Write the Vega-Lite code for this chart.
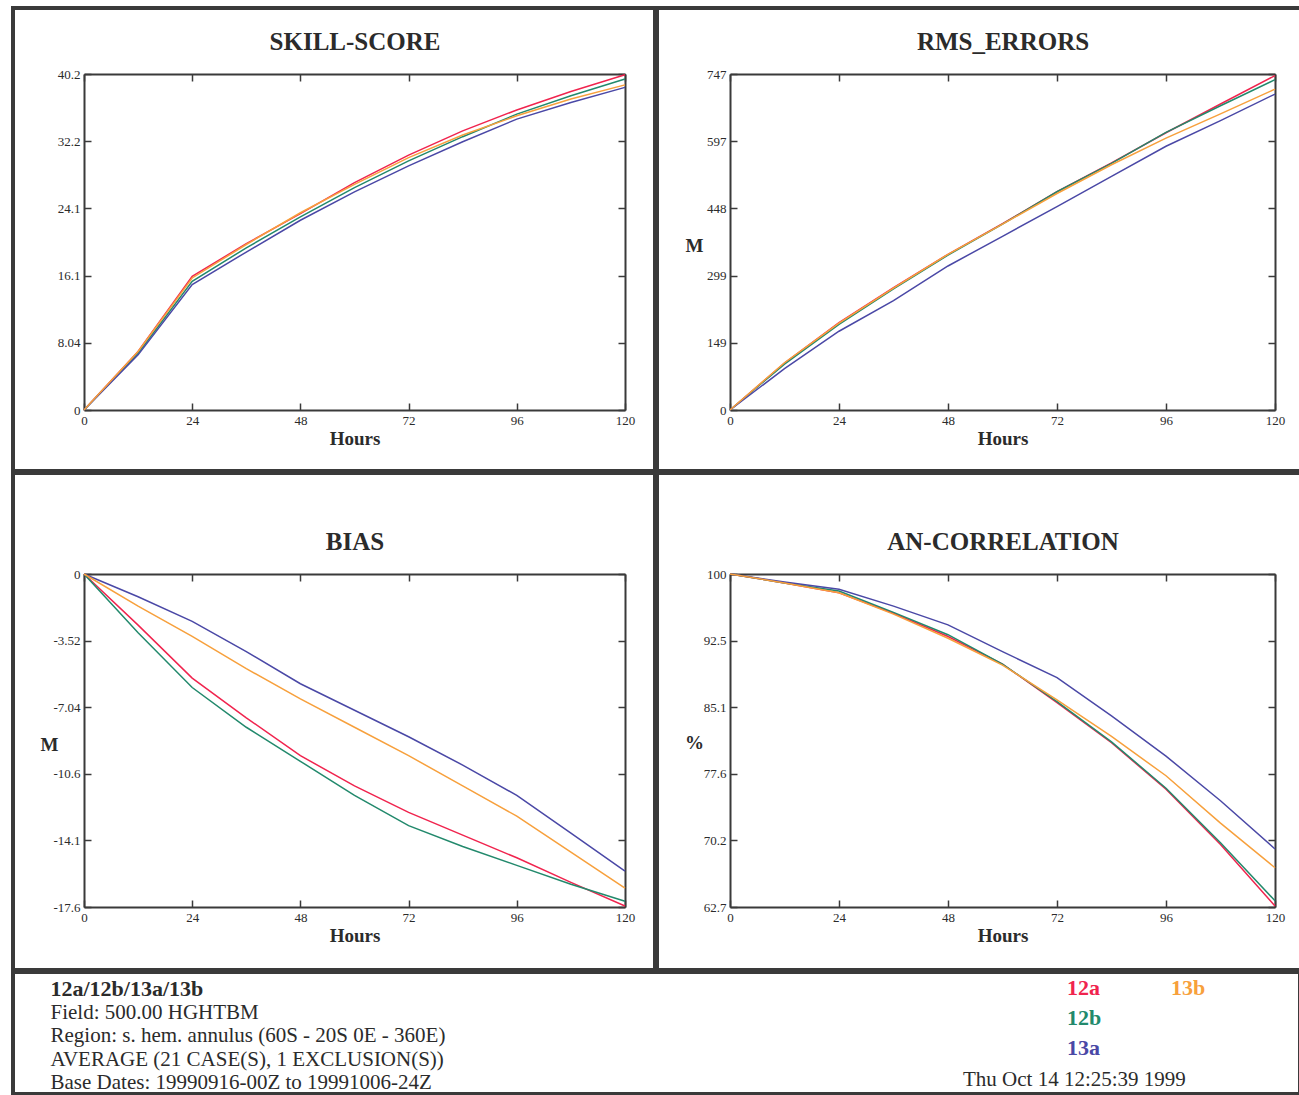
{
  "$schema": "https://vega.github.io/schema/vega-lite/v6.json",
  "background": "white",
  "padding": {"left": 8, "top": 6, "right": 0, "bottom": 0},
  "datasets": {
    "rows": [
      {"metric":"skill","series":"12a","hour":0,"value":0},{"metric":"skill","series":"12a","hour":12,"value":7.0},{"metric":"skill","series":"12a","hour":24,"value":16.0},{"metric":"skill","series":"12a","hour":36,"value":19.9},{"metric":"skill","series":"12a","hour":48,"value":23.5},{"metric":"skill","series":"12a","hour":60,"value":27.2},{"metric":"skill","series":"12a","hour":72,"value":30.5},{"metric":"skill","series":"12a","hour":84,"value":33.4},{"metric":"skill","series":"12a","hour":96,"value":35.9},{"metric":"skill","series":"12a","hour":108,"value":38.1},{"metric":"skill","series":"12a","hour":120,"value":40.1},
      {"metric":"skill","series":"12b","hour":0,"value":0},{"metric":"skill","series":"12b","hour":12,"value":6.8},{"metric":"skill","series":"12b","hour":24,"value":15.4},{"metric":"skill","series":"12b","hour":36,"value":19.4},{"metric":"skill","series":"12b","hour":48,"value":23.1},{"metric":"skill","series":"12b","hour":60,"value":26.6},{"metric":"skill","series":"12b","hour":72,"value":29.8},{"metric":"skill","series":"12b","hour":84,"value":32.7},{"metric":"skill","series":"12b","hour":96,"value":35.4},{"metric":"skill","series":"12b","hour":108,"value":37.6},{"metric":"skill","series":"12b","hour":120,"value":39.6},
      {"metric":"skill","series":"13a","hour":0,"value":0},{"metric":"skill","series":"13a","hour":12,"value":6.6},{"metric":"skill","series":"13a","hour":24,"value":15.0},{"metric":"skill","series":"13a","hour":36,"value":18.9},{"metric":"skill","series":"13a","hour":48,"value":22.7},{"metric":"skill","series":"13a","hour":60,"value":26.1},{"metric":"skill","series":"13a","hour":72,"value":29.2},{"metric":"skill","series":"13a","hour":84,"value":32.1},{"metric":"skill","series":"13a","hour":96,"value":34.8},{"metric":"skill","series":"13a","hour":108,"value":36.8},{"metric":"skill","series":"13a","hour":120,"value":38.6},
      {"metric":"skill","series":"13b","hour":0,"value":0},{"metric":"skill","series":"13b","hour":12,"value":7.0},{"metric":"skill","series":"13b","hour":24,"value":15.8},{"metric":"skill","series":"13b","hour":36,"value":19.8},{"metric":"skill","series":"13b","hour":48,"value":23.6},{"metric":"skill","series":"13b","hour":60,"value":27.0},{"metric":"skill","series":"13b","hour":72,"value":30.2},{"metric":"skill","series":"13b","hour":84,"value":32.9},{"metric":"skill","series":"13b","hour":96,"value":35.2},{"metric":"skill","series":"13b","hour":108,"value":37.2},{"metric":"skill","series":"13b","hour":120,"value":38.9},
      {"metric":"rms","series":"12a","hour":0,"value":0},{"metric":"rms","series":"12a","hour":12,"value":104},{"metric":"rms","series":"12a","hour":24,"value":194},{"metric":"rms","series":"12a","hour":36,"value":272},{"metric":"rms","series":"12a","hour":48,"value":346},{"metric":"rms","series":"12a","hour":60,"value":414},{"metric":"rms","series":"12a","hour":72,"value":485},{"metric":"rms","series":"12a","hour":84,"value":549},{"metric":"rms","series":"12a","hour":96,"value":616},{"metric":"rms","series":"12a","hour":108,"value":680},{"metric":"rms","series":"12a","hour":120,"value":743},
      {"metric":"rms","series":"12b","hour":0,"value":0},{"metric":"rms","series":"12b","hour":12,"value":102},{"metric":"rms","series":"12b","hour":24,"value":190},{"metric":"rms","series":"12b","hour":36,"value":269},{"metric":"rms","series":"12b","hour":48,"value":344},{"metric":"rms","series":"12b","hour":60,"value":413},{"metric":"rms","series":"12b","hour":72,"value":485},{"metric":"rms","series":"12b","hour":84,"value":548},{"metric":"rms","series":"12b","hour":96,"value":617},{"metric":"rms","series":"12b","hour":108,"value":676},{"metric":"rms","series":"12b","hour":120,"value":734},
      {"metric":"rms","series":"13a","hour":0,"value":0},{"metric":"rms","series":"13a","hour":12,"value":92},{"metric":"rms","series":"13a","hour":24,"value":175},{"metric":"rms","series":"13a","hour":36,"value":243},{"metric":"rms","series":"13a","hour":48,"value":320},{"metric":"rms","series":"13a","hour":60,"value":386},{"metric":"rms","series":"13a","hour":72,"value":452},{"metric":"rms","series":"13a","hour":84,"value":519},{"metric":"rms","series":"13a","hour":96,"value":586},{"metric":"rms","series":"13a","hour":108,"value":643},{"metric":"rms","series":"13a","hour":120,"value":702},
      {"metric":"rms","series":"13b","hour":0,"value":0},{"metric":"rms","series":"13b","hour":12,"value":105},{"metric":"rms","series":"13b","hour":24,"value":193},{"metric":"rms","series":"13b","hour":36,"value":271},{"metric":"rms","series":"13b","hour":48,"value":346},{"metric":"rms","series":"13b","hour":60,"value":413},{"metric":"rms","series":"13b","hour":72,"value":481},{"metric":"rms","series":"13b","hour":84,"value":545},{"metric":"rms","series":"13b","hour":96,"value":604},{"metric":"rms","series":"13b","hour":108,"value":658},{"metric":"rms","series":"13b","hour":120,"value":713},
      {"metric":"bias","series":"12a","hour":0,"value":0},{"metric":"bias","series":"12a","hour":12,"value":-2.7},{"metric":"bias","series":"12a","hour":24,"value":-5.5},{"metric":"bias","series":"12a","hour":36,"value":-7.6},{"metric":"bias","series":"12a","hour":48,"value":-9.6},{"metric":"bias","series":"12a","hour":60,"value":-11.2},{"metric":"bias","series":"12a","hour":72,"value":-12.6},{"metric":"bias","series":"12a","hour":84,"value":-13.8},{"metric":"bias","series":"12a","hour":96,"value":-15.0},{"metric":"bias","series":"12a","hour":108,"value":-16.3},{"metric":"bias","series":"12a","hour":120,"value":-17.55},
      {"metric":"bias","series":"12b","hour":0,"value":0},{"metric":"bias","series":"12b","hour":12,"value":-3.1},{"metric":"bias","series":"12b","hour":24,"value":-6.0},{"metric":"bias","series":"12b","hour":36,"value":-8.1},{"metric":"bias","series":"12b","hour":48,"value":-9.9},{"metric":"bias","series":"12b","hour":60,"value":-11.7},{"metric":"bias","series":"12b","hour":72,"value":-13.3},{"metric":"bias","series":"12b","hour":84,"value":-14.4},{"metric":"bias","series":"12b","hour":96,"value":-15.4},{"metric":"bias","series":"12b","hour":108,"value":-16.4},{"metric":"bias","series":"12b","hour":120,"value":-17.3},
      {"metric":"bias","series":"13a","hour":0,"value":0},{"metric":"bias","series":"13a","hour":12,"value":-1.2},{"metric":"bias","series":"13a","hour":24,"value":-2.5},{"metric":"bias","series":"13a","hour":36,"value":-4.1},{"metric":"bias","series":"13a","hour":48,"value":-5.8},{"metric":"bias","series":"13a","hour":60,"value":-7.2},{"metric":"bias","series":"13a","hour":72,"value":-8.6},{"metric":"bias","series":"13a","hour":84,"value":-10.1},{"metric":"bias","series":"13a","hour":96,"value":-11.7},{"metric":"bias","series":"13a","hour":108,"value":-13.7},{"metric":"bias","series":"13a","hour":120,"value":-15.7},
      {"metric":"bias","series":"13b","hour":0,"value":0},{"metric":"bias","series":"13b","hour":12,"value":-1.7},{"metric":"bias","series":"13b","hour":24,"value":-3.3},{"metric":"bias","series":"13b","hour":36,"value":-5.0},{"metric":"bias","series":"13b","hour":48,"value":-6.6},{"metric":"bias","series":"13b","hour":60,"value":-8.1},{"metric":"bias","series":"13b","hour":72,"value":-9.6},{"metric":"bias","series":"13b","hour":84,"value":-11.2},{"metric":"bias","series":"13b","hour":96,"value":-12.8},{"metric":"bias","series":"13b","hour":108,"value":-14.7},{"metric":"bias","series":"13b","hour":120,"value":-16.6},
      {"metric":"ac","series":"12a","hour":0,"value":100},{"metric":"ac","series":"12a","hour":12,"value":99.0},{"metric":"ac","series":"12a","hour":24,"value":97.9},{"metric":"ac","series":"12a","hour":36,"value":95.6},{"metric":"ac","series":"12a","hour":48,"value":93.0},{"metric":"ac","series":"12a","hour":60,"value":89.9},{"metric":"ac","series":"12a","hour":72,"value":85.6},{"metric":"ac","series":"12a","hour":84,"value":81.1},{"metric":"ac","series":"12a","hour":96,"value":75.9},{"metric":"ac","series":"12a","hour":108,"value":69.7},{"metric":"ac","series":"12a","hour":120,"value":62.8},
      {"metric":"ac","series":"12b","hour":0,"value":100},{"metric":"ac","series":"12b","hour":12,"value":99.0},{"metric":"ac","series":"12b","hour":24,"value":98.1},{"metric":"ac","series":"12b","hour":36,"value":95.7},{"metric":"ac","series":"12b","hour":48,"value":93.2},{"metric":"ac","series":"12b","hour":60,"value":89.9},{"metric":"ac","series":"12b","hour":72,"value":85.7},{"metric":"ac","series":"12b","hour":84,"value":81.2},{"metric":"ac","series":"12b","hour":96,"value":76.0},{"metric":"ac","series":"12b","hour":108,"value":69.9},{"metric":"ac","series":"12b","hour":120,"value":63.4},
      {"metric":"ac","series":"13a","hour":0,"value":100},{"metric":"ac","series":"13a","hour":12,"value":99.1},{"metric":"ac","series":"13a","hour":24,"value":98.3},{"metric":"ac","series":"13a","hour":36,"value":96.4},{"metric":"ac","series":"13a","hour":48,"value":94.3},{"metric":"ac","series":"13a","hour":60,"value":91.3},{"metric":"ac","series":"13a","hour":72,"value":88.4},{"metric":"ac","series":"13a","hour":84,"value":84.1},{"metric":"ac","series":"13a","hour":96,"value":79.6},{"metric":"ac","series":"13a","hour":108,"value":74.6},{"metric":"ac","series":"13a","hour":120,"value":69.2},
      {"metric":"ac","series":"13b","hour":0,"value":100},{"metric":"ac","series":"13b","hour":12,"value":99.0},{"metric":"ac","series":"13b","hour":24,"value":97.9},{"metric":"ac","series":"13b","hour":36,"value":95.5},{"metric":"ac","series":"13b","hour":48,"value":92.8},{"metric":"ac","series":"13b","hour":60,"value":89.8},{"metric":"ac","series":"13b","hour":72,"value":85.9},{"metric":"ac","series":"13b","hour":84,"value":81.8},{"metric":"ac","series":"13b","hour":96,"value":77.4},{"metric":"ac","series":"13b","hour":108,"value":72.1},{"metric":"ac","series":"13b","hour":120,"value":67.1}
    ]
  },
  "spacing": -4,
  "vconcat": [
    {
      "spacing": -4,
      "hconcat": [
        {
          "width": 642, "height": 463,
          "view": {"stroke": "#3a3a3a", "strokeWidth": 4},
          "data": {"name": "rows"},
          "transform": [{"filter": "datum.metric === 'skill'"}],
          "layer": [
            {
              "mark": {"type": "line", "strokeWidth": 1.5},
              "encoding": {
                "x": {"field": "hour", "type": "quantitative", "scale": {"domain": [0, 120], "range": [71, 612], "nice": false, "zero": false},
                      "axis": {"orient": "bottom", "offset": -61, "values": [0, 24, 48, 72, 96, 120], "title": "Hours", "titlePadding": 2}},
                "y": {"field": "value", "type": "quantitative", "scale": {"domain": [0, 40.2], "range": [402, 66], "nice": false, "zero": false},
                      "axis": {"orient": "left", "offset": -71, "values": [0, 8.04, 16.08, 24.12, 32.16, 40.2], "labelExpr": "replace(format(datum.value, '.3~r'), '\u2212', '-')", "title": null}},
                "color": {"field": "series", "type": "nominal",
                          "scale": {"domain": ["12a", "12b", "13a", "13b"], "range": ["#f0244e", "#22896c", "#4a48a6", "#f7a03c"]},
                          "legend": {
                            "orient": "none", "legendX": 950, "legendY": 969,
                            "values": ["12a", "12b", "13a", "13b", ""],
                            "columns": 2, "columnPadding": 47, "rowPadding": 8,
                            "symbolSize": 0, "symbolOpacity": 0, "symbolStrokeWidth": 0, "labelOffset": 0,
                            "labelFont": "Liberation Serif", "labelFontSize": 22, "labelFontWeight": "bold",
                            "title": "Thu Oct 14 12:25:39 1999", "titleOrient": "bottom", "titleAnchor": "start", "titlePadding": 10,
                            "titleFont": "Liberation Serif", "titleFontSize": 21, "titleFontWeight": "normal", "titleColor": "#2b2b2b", "titleLimit": 500,
                            "encode": {
                              "labels": {"update": {"fill": {"scale": "color", "field": "value"}}},
                              "title": {"update": {"dx": {"value": -82}}}
                            }
                          }}
              }
            },
            {
              "mark": {"type": "line", "opacity": 0},
              "encoding": {
                "x": {"field": "hour", "type": "quantitative", "axis": {"orient": "top", "offset": -66, "values": [0, 24, 48, 72, 96, 120], "labels": false, "title": "SKILL-SCORE", "titleFontSize": 25, "titleY": -25, "titleBaseline": "alphabetic"}},
                "y": {"field": "value", "type": "quantitative", "axis": {"orient": "right", "offset": -30, "values": [0, 8.04, 16.08, 24.12, 32.16, 40.2], "labels": false, "title": null}}
              }
            }
          ],
          "resolve": {"axis": {"x": "independent", "y": "independent"}}
        },
        {
          "width": 645, "height": 463,
          "view": {"stroke": "#3a3a3a", "strokeWidth": 4},
          "data": {"name": "rows"},
          "transform": [{"filter": "datum.metric === 'rms'"}],
          "layer": [
            {
              "mark": {"type": "line", "strokeWidth": 1.5},
              "encoding": {
                "x": {"field": "hour", "type": "quantitative", "scale": {"domain": [0, 120], "range": [73, 618], "nice": false, "zero": false},
                      "axis": {"orient": "bottom", "offset": -61, "values": [0, 24, 48, 72, 96, 120], "title": "Hours", "titlePadding": 2}},
                "y": {"field": "value", "type": "quantitative", "scale": {"domain": [0, 746.6], "range": [402, 66], "nice": false, "zero": false},
                      "axis": {"orient": "left", "offset": -73, "values": [0, 149.32, 298.64, 447.96, 597.28, 746.6], "labelExpr": "replace(format(datum.value, '.3~r'), '\u2212', '-')",
                               "title": "M", "titleAngle": 0, "titleX": -36, "titleY": 237, "titleAlign": "center", "titleBaseline": "middle"}},
                "color": {"field": "series", "type": "nominal"}
              }
            },
            {
              "mark": {"type": "line", "opacity": 0},
              "encoding": {
                "x": {"field": "hour", "type": "quantitative", "axis": {"orient": "top", "offset": -66, "values": [0, 24, 48, 72, 96, 120], "labels": false, "title": "RMS_ERRORS", "titleFontSize": 25, "titleY": -25, "titleBaseline": "alphabetic"}},
                "y": {"field": "value", "type": "quantitative", "axis": {"orient": "right", "offset": -27, "values": [0, 149.32, 298.64, 447.96, 597.28, 746.6], "labels": false, "title": null}}
              }
            }
          ],
          "resolve": {"axis": {"x": "independent", "y": "independent"}}
        }
      ]
    },
    {
      "spacing": -4,
      "hconcat": [
        {
          "width": 642, "height": 497,
          "view": {"stroke": "#3a3a3a", "strokeWidth": 4},
          "data": {"name": "rows"},
          "transform": [{"filter": "datum.metric === 'bias'"}],
          "layer": [
            {
              "mark": {"type": "line", "strokeWidth": 1.5},
              "encoding": {
                "x": {"field": "hour", "type": "quantitative", "scale": {"domain": [0, 120], "range": [71, 612], "nice": false, "zero": false},
                      "axis": {"orient": "bottom", "offset": -63, "values": [0, 24, 48, 72, 96, 120], "title": "Hours", "titlePadding": 2}},
                "y": {"field": "value", "type": "quantitative", "scale": {"domain": [-17.6, 0], "range": [434, 101], "nice": false, "zero": false},
                      "axis": {"orient": "left", "offset": -71, "values": [-17.6, -14.08, -10.56, -7.04, -3.52, 0], "labelExpr": "replace(format(datum.value, '.3~r'), '\u2212', '-')",
                               "title": "M", "titleAngle": 0, "titleX": -35, "titleY": 271, "titleAlign": "center", "titleBaseline": "middle"}},
                "color": {"field": "series", "type": "nominal"}
              }
            },
            {
              "mark": {"type": "line", "opacity": 0},
              "encoding": {
                "x": {"field": "hour", "type": "quantitative", "axis": {"orient": "top", "offset": -101, "values": [0, 24, 48, 72, 96, 120], "labels": false, "title": "BIAS", "titleFontSize": 25, "titleY": -25, "titleBaseline": "alphabetic"}},
                "y": {"field": "value", "type": "quantitative", "axis": {"orient": "right", "offset": -30, "values": [-17.6, -14.08, -10.56, -7.04, -3.52, 0], "labels": false, "title": null}}
              }
            }
          ],
          "resolve": {"axis": {"x": "independent", "y": "independent"}}
        },
        {
          "width": 645, "height": 497,
          "view": {"stroke": "#3a3a3a", "strokeWidth": 4},
          "data": {"name": "rows"},
          "transform": [{"filter": "datum.metric === 'ac'"}],
          "layer": [
            {
              "mark": {"type": "line", "strokeWidth": 1.5},
              "encoding": {
                "x": {"field": "hour", "type": "quantitative", "scale": {"domain": [0, 120], "range": [73, 618], "nice": false, "zero": false},
                      "axis": {"orient": "bottom", "offset": -63, "values": [0, 24, 48, 72, 96, 120], "title": "Hours", "titlePadding": 2}},
                "y": {"field": "value", "type": "quantitative", "scale": {"domain": [62.7, 100], "range": [434, 101], "nice": false, "zero": false},
                      "axis": {"orient": "left", "offset": -73, "values": [62.7, 70.16, 77.62, 85.08, 92.54, 100], "labelExpr": "replace(format(datum.value, '.3~r'), '\u2212', '-')",
                               "title": "%", "titleAngle": 0, "titleX": -36, "titleY": 269, "titleAlign": "center", "titleBaseline": "middle"}},
                "color": {"field": "series", "type": "nominal"}
              }
            },
            {
              "mark": {"type": "line", "opacity": 0},
              "encoding": {
                "x": {"field": "hour", "type": "quantitative", "axis": {"orient": "top", "offset": -101, "values": [0, 24, 48, 72, 96, 120], "labels": false, "title": "AN-CORRELATION", "titleFontSize": 25, "titleY": -25, "titleBaseline": "alphabetic"}},
                "y": {"field": "value", "type": "quantitative", "axis": {"orient": "right", "offset": -27, "values": [62.7, 70.16, 77.62, 85.08, 92.54, 100], "labels": false, "title": null}}
              }
            }
          ],
          "resolve": {"axis": {"x": "independent", "y": "independent"}}
        }
      ]
    },
    {
      "width": 1287, "height": 122,
      "view": {"stroke": "#3a3a3a", "strokeWidth": 4},
      "data": {"name": "rows"},
      "transform": [{"filter": "datum.metric === 'skill'"}],
      "layer": [
        {
          "mark": {"type": "point", "opacity": 0},
          "encoding": {
            "x": {"field": "hour", "type": "quantitative", "axis": {"orient": "top", "domain": false, "ticks": false, "labels": false, "title": "12a/12b/13a/13b", "titleX": 37, "titleY": 23, "titleAlign": "left", "titleBaseline": "alphabetic", "titleFontSize": 22}},
            "y": {"field": "value", "type": "quantitative", "axis": null}
          }
        },
        {
          "mark": {"type": "point", "opacity": 0},
          "encoding": {
            "x": {"field": "hour", "type": "quantitative", "axis": {"orient": "bottom", "domain": false, "ticks": false, "labels": false,
                  "title": ["Field: 500.00 HGHTBM", "Region: s. hem. annulus (60S - 20S 0E - 360E)", "AVERAGE (21 CASE(S), 1 EXCLUSION(S))", "Base Dates: 19990916-00Z to 19991006-24Z"],
                  "titleX": 37, "titleY": -76, "titleAlign": "left", "titleBaseline": "alphabetic", "titleFontSize": 21, "titleFontWeight": "normal", "titleLineHeight": 23.5}},
            "y": {"field": "value", "type": "quantitative", "axis": null}
          }
        }
      ],
      "resolve": {"axis": {"x": "independent"}}
    }
  ],
  "config": {
    "font": "Liberation Serif",
    "view": {"stroke": null},
    "axis": {
      "labelFont": "Liberation Serif", "labelFontSize": 13, "labelColor": "#2b2b2b",
      "titleFont": "Liberation Serif", "titleFontSize": 19, "titleFontWeight": "bold", "titleColor": "#2b2b2b",
      "domainColor": "#3a3a3a", "domainWidth": 2, "tickColor": "#3a3a3a", "tickWidth": 1.5, "tickSize": -7,
      "labelPadding": 11, "grid": false, "labelFlush": false, "labelOverlap": false
    }
  }
}
